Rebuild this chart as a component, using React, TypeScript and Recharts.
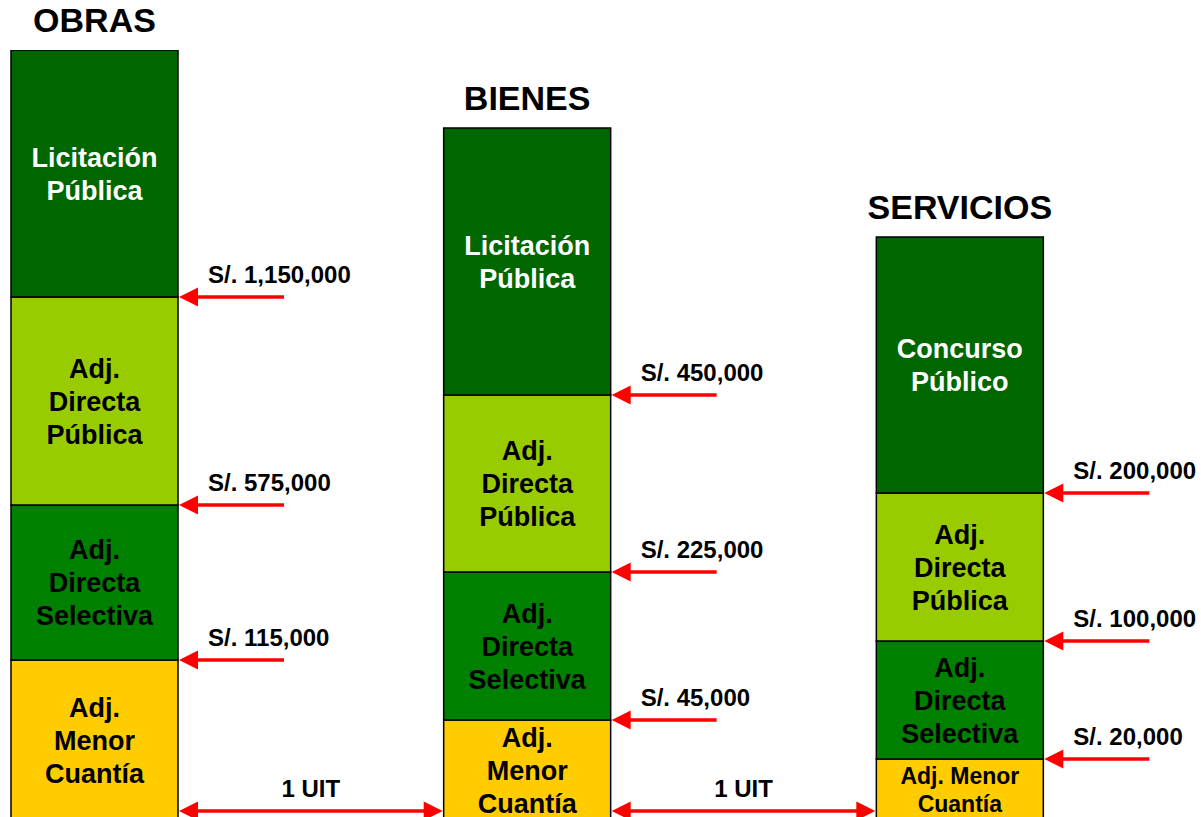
import { BarChart, Bar, XAxis, YAxis, LabelList } from 'recharts';

const categories = ['OBRAS', 'BIENES', 'SERVICIOS'];

// alto de cada tramo del esquema (de abajo hacia arriba)
const menorCuantia = [160, 100, 61];
const directaSelectiva = [155, 148, 118];
const directaPublica = [208, 177, 148];
const licitacion = [247, 267, 256];

const menorNames = ['Adj.\nMenor\nCuantía', 'Adj.\nMenor\nCuantía', 'Adj. Menor\nCuantía'];
const selectivaNames = ['Adj.\nDirecta\nSelectiva', 'Adj.\nDirecta\nSelectiva', 'Adj.\nDirecta\nSelectiva'];
const publicaNames = ['Adj.\nDirecta\nPública', 'Adj.\nDirecta\nPública', 'Adj.\nDirecta\nPública'];
const licitacionNames = ['Licitación\nPública', 'Licitación\nPública', 'Concurso\nPúblico'];

const menorLimits = ['S/. 115,000', 'S/. 45,000', 'S/. 20,000'];
const selectivaLimits = ['S/. 575,000', 'S/. 225,000', 'S/. 100,000'];
const publicaLimits = ['S/. 1,150,000', 'S/. 450,000', 'S/. 200,000'];

const uitLabel = '1 UIT';

const data = categories.map((name, i) => ({
  name,
  menor: menorCuantia[i],
  selectiva: directaSelectiva[i],
  publica: directaPublica[i],
  licitacion: licitacion[i],
  menorName: menorNames[i],
  selectivaName: selectivaNames[i],
  publicaName: publicaNames[i],
  licitacionName: licitacionNames[i],
  menorLimit: menorLimits[i],
  selectivaLimit: selectivaLimits[i],
  publicaLimit: publicaLimits[i],
  uit: i < categories.length - 1 ? uitLabel : '',
}));

const CHART_W = 1338;
const CHART_H = 840;
const MARGIN = { top: 50, right: 40, left: 0, bottom: 20 };
const BAND = (CHART_W - MARGIN.left - MARGIN.right) / categories.length;
const FONT = '"Liberation Sans", Arial, sans-serif';
const RED = '#FF0000';

const box = (p: any) => {
  const vb = p.viewBox || p;
  return { x: Number(vb.x), y: Number(vb.y), w: Number(vb.width), h: Number(vb.height) };
};

const segmentLabel = (color: string) => (p: any) => {
  const { x, y, w, h } = box(p);
  const lines = String(p.value).split('\n');
  const small = h < 80;
  const size = small ? 23 : 27;
  const lh = small ? 28 : 33;
  const cx = x + w / 2;
  const first = y + h / 2 - ((lines.length - 1) * lh) / 2 + size * 0.36;
  return (
    <text textAnchor="middle" fill={color} fontSize={size} fontWeight="bold" fontFamily={FONT}>
      {lines.map((l, i) => (
        <tspan key={i} x={cx} y={first + i * lh}>
          {l}
        </tspan>
      ))}
    </text>
  );
};

const limitLabel = (p: any) => {
  const { x, y, w } = box(p);
  const x0 = x + w;
  return (
    <g>
      <line x1={x0 + 15} y1={y} x2={x0 + 106} y2={y} stroke={RED} strokeWidth={3.5} />
      <polygon points={`${x0 + 1},${y} ${x0 + 20},${y - 9.5} ${x0 + 20},${y + 9.5}`} fill={RED} />
      <text x={x0 + 30} y={y - 14} fontSize={24} fontWeight="bold" fontFamily={FONT} fill="#000">
        {p.value}
      </text>
    </g>
  );
};

const uitArrow = (p: any) => {
  if (!p.value) return null;
  const { x, y, w, h } = box(p);
  const x1 = x + w + 1;
  const x2 = x + BAND - 1;
  const ay = y + h - 9;
  return (
    <g>
      <line x1={x1 + 15} y1={ay} x2={x2 - 15} y2={ay} stroke={RED} strokeWidth={3.5} />
      <polygon points={`${x1},${ay} ${x1 + 19},${ay - 9.5} ${x1 + 19},${ay + 9.5}`} fill={RED} />
      <polygon points={`${x2},${ay} ${x2 - 19},${ay - 9.5} ${x2 - 19},${ay + 9.5}`} fill={RED} />
      <text x={(x1 + x2) / 2} y={ay - 14} textAnchor="middle" fontSize={24} fontWeight="bold" fontFamily={FONT} fill="#000">
        {p.value}
      </text>
    </g>
  );
};

const titleLabel = (p: any) => {
  const { x, y, w } = box(p);
  return (
    <text x={x + w / 2} y={y - 18} textAnchor="middle" fontSize={34} fontWeight="bold" fontFamily={FONT} fill="#000">
      {p.value}
    </text>
  );
};

export default function App() {
  return (
    <div style={{ position: 'fixed', top: 0, left: 0, width: 1201, height: 817, overflow: 'hidden', background: '#fff' }}>
      <div style={{ position: 'absolute', top: 0, left: -122 }}>
        <BarChart width={CHART_W} height={CHART_H} data={data} margin={MARGIN} barSize={167}>
          <XAxis dataKey="name" hide />
          <YAxis hide domain={[0, 770]} allowDataOverflow />
          <Bar dataKey="menor" stackId="a" fill="#FFCC00" stroke="#000" strokeWidth={1.5} isAnimationActive={false}>
            <LabelList dataKey="menorName" content={segmentLabel('#000')} />
            <LabelList dataKey="menorLimit" content={limitLabel} />
            <LabelList dataKey="uit" content={uitArrow} />
          </Bar>
          <Bar dataKey="selectiva" stackId="a" fill="#008000" stroke="#000" strokeWidth={1.5} isAnimationActive={false}>
            <LabelList dataKey="selectivaName" content={segmentLabel('#000')} />
            <LabelList dataKey="selectivaLimit" content={limitLabel} />
          </Bar>
          <Bar dataKey="publica" stackId="a" fill="#99CC00" stroke="#000" strokeWidth={1.5} isAnimationActive={false}>
            <LabelList dataKey="publicaName" content={segmentLabel('#000')} />
            <LabelList dataKey="publicaLimit" content={limitLabel} />
          </Bar>
          <Bar dataKey="licitacion" stackId="a" fill="#006600" stroke="#000" strokeWidth={1.5} isAnimationActive={false}>
            <LabelList dataKey="licitacionName" content={segmentLabel('#fff')} />
            <LabelList dataKey="name" content={titleLabel} />
          </Bar>
        </BarChart>
      </div>
    </div>
  );
}
